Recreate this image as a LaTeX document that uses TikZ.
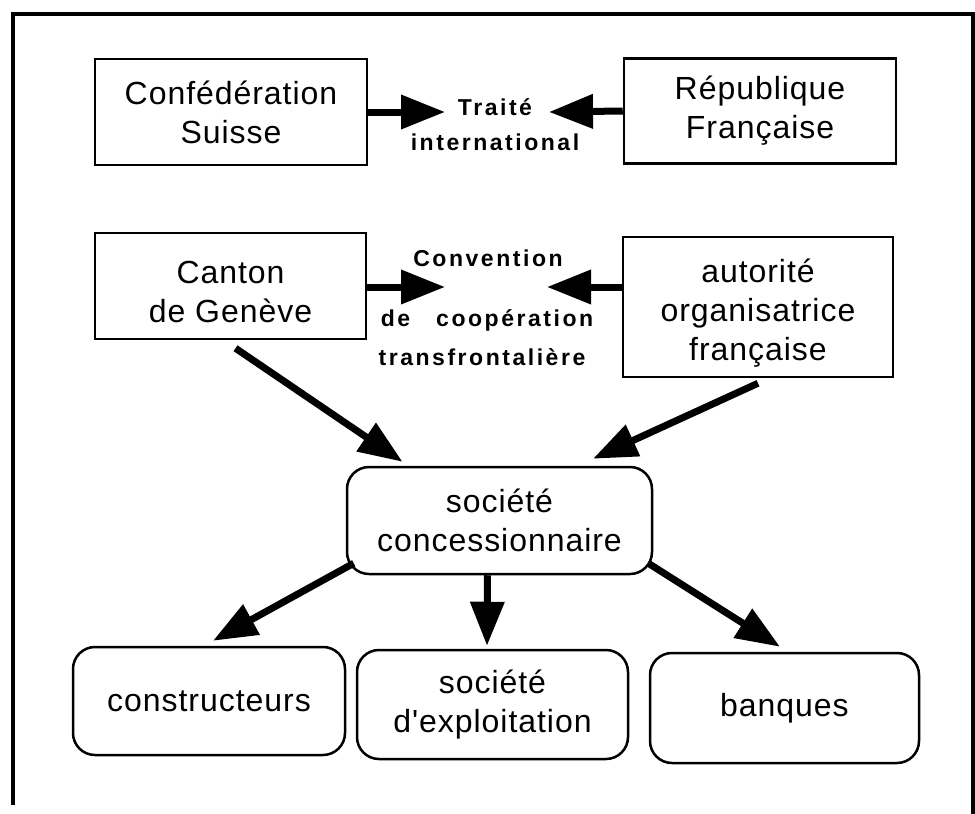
\documentclass[tikz,border=0pt]{standalone}
\usepackage{fontspec}
\setmainfont{Liberation Sans}
\newfontfamily\boxfont[LetterSpace=3]{Liberation Sans}
\newfontfamily\lblfont[LetterSpace=11]{Liberation Sans}
\usetikzlibrary{arrows.meta,calc}
\begin{document}
\begin{tikzpicture}[x=1pt,y=-1pt,
  sqbox/.style={draw,line width=2.5pt,rectangle,align=center,inner sep=0pt,
    font=\boxfont\fontsize{32}{39}\selectfont},
  rdbox/.style={sqbox,rounded corners=22pt},
  lbl/.style={inner sep=0pt,font=\lblfont\bfseries\fontsize{23}{26}\selectfont},
  arr/.style={line width=7pt,-{Triangle[length=44pt,width=33pt]}},
  frame/.style={line width=4pt}]
\useasboundingbox (0,0) rectangle (975,814);
\draw[frame] (13,805) -- (13,14) -- (973,14) -- (973,814);
% top row
\node[sqbox,minimum width=272pt,minimum height=106pt] (conf) at (231,112) {Confédération\\Suisse};
\node[sqbox,minimum width=272pt,minimum height=105pt] (rep) at (760,111) {République\\Française};
\node[lbl] (traite) at (495,107) {Traité};
\node[lbl] (intl) at (495,142) {international};
\coordinate (t1) at (445,112);
\coordinate (t2) at (549,112);
\draw[arr] (conf.east) -- (t1);
\draw[arr] (rep.west) -- (t2);
% second row
\node[sqbox,minimum width=271pt,minimum height=106pt] (canton) at (230.5,286) {\rule{0pt}{34pt}Canton\\de Genève};
\node[sqbox,minimum width=270pt,minimum height=140pt] (autor) at (758,307) {\rule{0pt}{36pt}autorité\\organisatrice\\française};
\node[lbl] (conv) at (488,258) {Convention};
\node[lbl] (coop) at (487,320) {de\hspace{26pt}coopération};
\node[lbl] (trans) at (482,357) {transfrontalière};
\coordinate (c1) at (445,287);
\coordinate (c2) at (547,287);
\draw[arr] (canton.east |- c1) -- (c1);
\draw[arr] (autor.west |- c2) -- (c2);
% concessionnaire
\node[rdbox,minimum width=305pt,minimum height=107pt] (soc) at (499.5,520.5) {société\\concessionnaire};
\draw[arr] ([xshift=5pt,yshift=-8pt]canton.south) -- ([xshift=-97pt,yshift=4pt]soc.north);
\draw[arr] ([yshift=-5pt]autor.south) -- ([xshift=93.5pt,yshift=7pt]soc.north);
% bottom row
\node[rdbox,minimum width=272pt,minimum height=108pt] (constr) at (209,701) {constructeurs};
\node[rdbox,minimum width=271pt,minimum height=109pt] (expl) at (492.5,704.5) {société\\d'exploitation};
\node[rdbox,minimum width=269pt,minimum height=110pt] (banq) at (784.5,708) {banques};
\draw[arr] ([xshift=8pt,yshift=12pt]soc.south west) -- ([xshift=4pt,yshift=5pt]constr.north);
\draw[arr] ([xshift=-12pt]soc.south) -- ([xshift=-5.5pt,yshift=3pt]expl.north);
\draw[arr] ([xshift=-5pt,yshift=12pt]soc.south east) -- ([xshift=-4.5pt,yshift=5pt]banq.north);
\end{tikzpicture}
\end{document}
